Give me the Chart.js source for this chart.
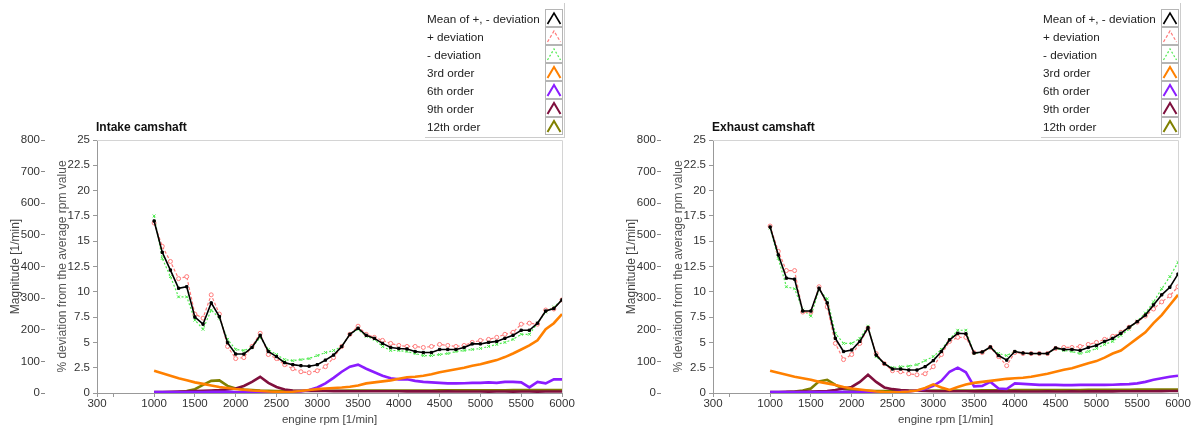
<!DOCTYPE html>
<html>
<head>
<meta charset="utf-8">
<script src="https://cdn.jsdelivr.net/npm/chart.js@4.4.1/dist/chart.umd.min.js"></script>
<style>
body { margin: 0; background: #fff; font-family: "Liberation Sans", Arial, sans-serif; }
#wrap { position: relative; width: 1193px; height: 428px; overflow: hidden; }
#wrap canvas { position: absolute; top: 0; }
.legend { position: absolute; top: 3px; width: 139px; padding: 6px 0 2px 0; border-right: 1px solid #ccc; border-bottom: 1px solid #ccc; font-size: 11.7px; color: #222; }
.legend .row { height: 18px; display: flex; align-items: center; justify-content: space-between; padding-left: 2px; }
.legend svg { margin-right: 1px; }
</style>
</head>
<body>
<div id="wrap">
  <canvas id="intake" width="596" height="428" style="left:0"></canvas>
  <canvas id="exhaust" width="597" height="428" style="left:596px"></canvas>
  <div class="legend" id="legIntake" style="left:425px"></div>
  <div class="legend" id="legExhaust" style="left:1041px"></div>
</div>
<script>
// engine speed points
const rpm = [1000, 1100, 1200, 1300, 1400, 1500, 1600, 1700, 1800, 1900,
    2000, 2100, 2200, 2300, 2400, 2500, 2600, 2700, 2800, 2900,
    3000, 3100, 3200, 3300, 3400, 3500, 3600, 3700, 3800, 3900,
    4000, 4100, 4200, 4300, 4400, 4500, 4600, 4700, 4800, 4900,
    5000, 5100, 5200, 5300, 5400, 5500, 5600, 5700, 5800, 5900, 6000];

const xTickValues = [300, 500, 1000, 1500, 2000, 2500, 3000, 3500, 4000, 4500, 5000, 5500, 6000];
const xUnlabeled = [500];
const magMax = 800, magStep = 100;
const pctMax = 25, pctStep = 2.5;

const seriesNames = ['Mean of +, - deviation', '+ deviation', '- deviation', '3rd order', '6th order', '9th order', '12th order'];

// Intake camshaft (% deviation)
const intakeMean = [17.0, 13.9, 12.15, 10.35, 10.5, 7.5, 6.8, 8.9, 7.55, 4.97,
    3.85, 3.85, 4.5, 5.7, 4.1, 3.6, 3.0, 2.8, 2.7, 2.65,
    2.8, 3.25, 3.75, 4.6, 5.8, 6.4, 5.7, 5.4, 4.9, 4.5,
    4.4, 4.35, 4.1, 4.0, 4.0, 4.3, 4.3, 4.3, 4.5, 4.85,
    4.85, 5.0, 5.1, 5.4, 5.7, 6.2, 6.2, 6.9, 8.1, 8.35, 9.2];
const intakePlus = [16.8, 14.5, 13.0, 11.3, 11.5, 7.8, 7.4, 9.7, 7.8, 4.6,
    3.4, 3.5, 4.6, 5.9, 3.8, 3.4, 2.8, 2.4, 2.1, 2.0,
    2.2, 2.6, 3.5, 4.6, 5.8, 6.6, 5.8, 5.5, 5.2, 4.9,
    4.7, 4.6, 4.6, 4.5, 4.6, 4.8, 4.7, 4.6, 4.7, 5.0,
    5.2, 5.3, 5.5, 5.8, 6.0, 6.8, 6.9, 6.8, 8.2, 8.3, 9.2];
const intakeMinus = [17.5, 13.3, 11.5, 9.5, 9.5, 7.2, 6.3, 8.2, 7.4, 5.3,
    4.3, 4.2, 4.5, 5.5, 4.3, 3.8, 3.3, 3.2, 3.3, 3.4,
    3.7, 4.0, 4.2, 4.6, 5.8, 6.3, 5.6, 5.3, 4.6, 4.2,
    4.2, 4.1, 3.9, 3.7, 3.7, 3.8, 3.9, 4.1, 4.2, 4.3,
    4.4, 4.6, 4.8, 5.0, 5.3, 5.8, 5.8, 6.9, 8.0, 8.5, 9.2];
const intakeO3 = [2.2, 1.95, 1.7, 1.45, 1.25, 1.05, 0.9, 0.75, 0.6, 0.5,
    0.4, 0.32, 0.25, 0.2, 0.15, 0.12, 0.1, 0.13, 0.2, 0.3,
    0.38, 0.45, 0.5, 0.55, 0.62, 0.75, 0.95, 1.05, 1.15, 1.25,
    1.4, 1.55, 1.6, 1.7, 1.85, 2.05, 2.2, 2.35, 2.5, 2.7,
    2.85, 3.05, 3.25, 3.55, 3.9, 4.3, 4.7, 5.2, 6.3, 6.9, 7.8];
const intakeO6 = [0.1, 0.1, 0.1, 0.1, 0.1, 0.1, 0.1, 0.12, 0.12, 0.12,
    0.1, 0.08, 0.06, 0.05, 0.05, 0.05, 0.06, 0.1, 0.15, 0.3,
    0.55, 0.95, 1.5, 2.1, 2.6, 2.8, 2.4, 2.05, 1.7, 1.45,
    1.35, 1.35, 1.2, 1.1, 1.05, 1.0, 0.95, 0.95, 0.97, 1.0,
    1.0, 1.05, 1.0, 1.1, 1.1, 1.05, 0.55, 1.1, 0.95, 1.35, 1.35];
const intakeO9 = [0.1, 0.1, 0.12, 0.14, 0.16, 0.2, 0.22, 0.25, 0.28, 0.35,
    0.45, 0.7, 1.1, 1.6, 1.0, 0.6, 0.35, 0.25, 0.22, 0.2,
    0.2, 0.2, 0.19, 0.2, 0.18, 0.18, 0.17, 0.18, 0.18, 0.17,
    0.17, 0.16, 0.17, 0.16, 0.16, 0.15, 0.16, 0.15, 0.15, 0.15,
    0.15, 0.14, 0.15, 0.15, 0.14, 0.15, 0.15, 0.14, 0.15, 0.15, 0.15];
const intakeO12 = [0.05, 0.06, 0.08, 0.1, 0.2, 0.37, 0.8, 1.2, 1.25, 0.7,
    0.45, 0.35, 0.3, 0.25, 0.22, 0.2, 0.2, 0.2, 0.2, 0.22,
    0.22, 0.22, 0.22, 0.22, 0.23, 0.23, 0.23, 0.24, 0.24, 0.24,
    0.25, 0.25, 0.25, 0.25, 0.25, 0.26, 0.26, 0.26, 0.26, 0.26,
    0.27, 0.27, 0.27, 0.27, 0.28, 0.28, 0.28, 0.28, 0.29, 0.3, 0.3];

// Exhaust camshaft (% deviation)
const exhaustMean = [16.4, 13.65, 11.35, 11.25, 8.1, 8.1, 10.35, 8.9, 5.4, 4.1,
    4.25, 5.1, 6.45, 3.75, 2.9, 2.37, 2.37, 2.27, 2.27, 2.6,
    3.2, 4.1, 5.25, 5.9, 5.85, 3.95, 4.05, 4.55, 3.7, 3.25,
    4.1, 3.95, 3.9, 3.9, 3.9, 4.45, 4.3, 4.3, 4.2, 4.5,
    4.7, 5.1, 5.4, 5.9, 6.5, 7.05, 7.7, 8.7, 9.7, 10.45, 11.75];
const exhaustPlus = [16.5, 14.0, 12.1, 12.1, 8.0, 8.0, 10.5, 8.5, 4.9, 3.3,
    3.8, 4.9, 6.4, 3.9, 2.9, 2.2, 2.1, 1.9, 1.8, 1.9,
    2.6, 3.8, 5.1, 5.5, 5.5, 4.0, 4.0, 4.5, 3.6, 2.7,
    4.0, 3.9, 3.9, 3.9, 3.9, 4.4, 4.5, 4.5, 4.6, 4.8,
    5.0, 5.3, 5.6, 6.0, 6.5, 7.0, 7.6, 8.3, 9.0, 9.6, 10.5];
const exhaustMinus = [16.3, 13.3, 10.5, 10.3, 8.2, 7.6, 10.2, 9.3, 5.9, 4.9,
    4.9, 5.4, 6.6, 3.6, 2.9, 2.5, 2.6, 2.65, 2.8, 3.2,
    3.6, 4.3, 5.3, 6.2, 6.2, 3.9, 4.0, 4.5, 3.9, 3.7,
    4.1, 3.9, 3.9, 3.9, 3.9, 4.4, 4.2, 4.1, 3.9, 4.1,
    4.4, 4.8, 5.1, 5.7, 6.3, 7.1, 7.9, 9.0, 10.3, 11.5, 12.9];
const exhaustO3 = [2.2, 2.0, 1.8, 1.6, 1.45, 1.3, 1.1, 0.95, 0.8, 0.6,
    0.45, 0.35, 0.25, 0.15, 0.1, 0.08, 0.1, 0.15, 0.25, 0.5,
    0.85, 0.55, 0.3, 0.6, 0.85, 1.0, 1.1, 1.2, 1.3, 1.4,
    1.45, 1.5, 1.6, 1.75, 1.9, 2.1, 2.3, 2.45, 2.7, 2.95,
    3.15, 3.5, 3.9, 4.2, 4.8, 5.4, 6.0, 6.9, 7.7, 8.7, 9.7];
const exhaustO6 = [0.1, 0.1, 0.1, 0.1, 0.1, 0.1, 0.1, 0.1, 0.1, 0.12,
    0.12, 0.1, 0.08, 0.07, 0.07, 0.08, 0.12, 0.15, 0.25, 0.4,
    0.7, 1.2, 2.1, 2.5, 2.05, 0.65, 0.7, 1.1, 0.45, 0.4,
    0.95, 0.9, 0.85, 0.8, 0.8, 0.8, 0.78, 0.78, 0.8, 0.8,
    0.8, 0.8, 0.82, 0.85, 0.88, 0.95, 1.1, 1.3, 1.45, 1.6, 1.7];
const exhaustO9 = [0.1, 0.1, 0.12, 0.13, 0.15, 0.15, 0.18, 0.2, 0.3, 0.45,
    0.6, 1.1, 1.8, 1.1, 0.55, 0.38, 0.3, 0.25, 0.22, 0.2,
    0.18, 0.18, 0.17, 0.18, 0.17, 0.16, 0.17, 0.16, 0.16, 0.15,
    0.16, 0.15, 0.15, 0.15, 0.16, 0.15, 0.15, 0.16, 0.15, 0.16,
    0.16, 0.17, 0.16, 0.17, 0.17, 0.18, 0.18, 0.18, 0.19, 0.2, 0.2];
const exhaustO12 = [0.05, 0.08, 0.1, 0.15, 0.25, 0.45, 1.15, 1.3, 0.8, 0.4,
    0.3, 0.25, 0.22, 0.2, 0.2, 0.2, 0.2, 0.22, 0.22, 0.22,
    0.23, 0.23, 0.24, 0.24, 0.25, 0.25, 0.26, 0.26, 0.27, 0.27,
    0.28, 0.28, 0.28, 0.29, 0.29, 0.3, 0.3, 0.3, 0.3, 0.31,
    0.31, 0.31, 0.32, 0.32, 0.32, 0.33, 0.33, 0.33, 0.34, 0.35, 0.35];

Chart.defaults.font.family = '"Liberation Sans", Arial, sans-serif';
Chart.defaults.font.size = 11;
Chart.defaults.color = '#333';

const styles = [
    { color: '#000000', width: 1.6, dash: [], point: 'rect', radius: 1.6, fill: '#000000' },
    { color: '#ff7a7a', width: 1.2, dash: [3, 2], point: 'circle', radius: 2, fill: '#ffffff' },
    { color: '#4eea4e', width: 1.2, dash: [2, 2], point: 'crossRot', radius: 2, fill: '#4eea4e' },
    { color: '#ff8000', width: 2.6, dash: [], point: false, radius: 0 },
    { color: '#8a1cff', width: 2.6, dash: [], point: false, radius: 0 },
    { color: '#7f0f3d', width: 2.6, dash: [], point: false, radius: 0 },
    { color: '#808000', width: 2.6, dash: [], point: false, radius: 0 }
];

// frame + title drawn over the plot
const panelFrame = {
    id: 'panelFrame',
    afterDraw(chart, args, opts) {
        const a = chart.chartArea, ctx = chart.ctx;
        ctx.save();
        ctx.strokeStyle = '#d4d4d4';
        ctx.lineWidth = 1;
        ctx.beginPath();
        ctx.moveTo(a.left, a.top + 0.5);
        ctx.lineTo(a.right + 0.5, a.top + 0.5);
        ctx.lineTo(a.right + 0.5, a.bottom);
        ctx.stroke();
        ctx.font = 'bold 12px "Liberation Sans", Arial, sans-serif';
        ctx.fillStyle = '#111';
        ctx.textBaseline = 'middle';
        ctx.fillText(opts.text, a.left - 1, a.top - 12);
        ctx.restore();
    }
};

function makeChart(id, title, series, padLeft, padRight) {
    const datasets = series.map((vals, i) => {
        const s = styles[i];
        return {
            label: seriesNames[i],
            data: rpm.map((r, k) => ({ x: r, y: vals[k] })),
            yAxisID: 'y',
            borderColor: s.color,
            borderWidth: s.width,
            borderDash: s.dash,
            pointStyle: s.point,
            pointRadius: s.radius,
            pointBorderWidth: 1,
            pointBorderColor: s.color,
            pointBackgroundColor: s.fill || s.color,
            tension: 0,
            fill: false
        };
    });
    return new Chart(document.getElementById(id), {
        type: 'line',
        data: { datasets: datasets },
        options: {
            responsive: false,
            animation: false,
            layout: { padding: { left: padLeft, right: padRight, top: 140, bottom: 0 } },
            plugins: { legend: { display: false }, tooltip: { enabled: false }, panelFrame: { text: title } },
            scales: {
                x: {
                    type: 'linear', min: 300, max: 6000,
                    afterBuildTicks: s => { s.ticks = xTickValues.map(v => ({ value: v })); },
                    afterFit: s => { s.height = 35; },
                    ticks: { padding: 0, autoSkip: false, maxRotation: 0, color: '#333', font: { size: 11.5 },
                        callback: v => xUnlabeled.includes(v) ? '' : v },
                    grid: { drawOnChartArea: false, tickLength: 4, color: '#999' },
                    border: { color: '#999' },
                    title: { display: true, text: 'engine rpm [1/min]', color: '#444', font: { size: 11.5 }, padding: { top: 1, bottom: 1 } }
                },
                y: {
                    position: 'left', weight: 0, min: 0, max: pctMax,
                    afterFit: s => { s.width = 52; },
                    ticks: { stepSize: pctStep, padding: 3, color: '#333', font: { size: 11.5 } },
                    grid: { drawOnChartArea: false, tickLength: 4, color: '#999' },
                    border: { color: '#999' },
                    title: { display: true, text: '% deviation from the average rpm value', color: '#555', font: { size: 12 }, padding: { top: 10, bottom: 0 } }
                },
                mag: {
                    position: 'left', weight: 1, min: 0, max: magMax,
                    afterFit: s => { s.width = 45; },
                    ticks: { stepSize: magStep, padding: 1, color: '#333', font: { size: 11.5 } },
                    grid: { drawOnChartArea: false, tickLength: 4, color: '#888' },
                    border: { display: false },
                    title: { display: true, text: 'Magnitude [1/min]', color: '#444', font: { size: 12 }, padding: { top: 8, bottom: 0 } }
                }
            }
        },
        plugins: [panelFrame]
    });
}

function buildLegend(chart, el) {
    chart.data.datasets.forEach(ds => {
        const row = document.createElement('div');
        row.className = 'row';
        const dash = ds.borderDash.length ? ds.borderDash.join(',') : 'none';
        const w = Math.min(ds.borderWidth, 2);
        row.innerHTML = '<span>' + ds.label + '</span>' +
            '<svg width="18" height="18"><rect x="0.5" y="0.5" width="17" height="17" fill="#fff" stroke="#b5b5b5"/>' +
            '<polyline points="2.5,15 9,4 15.5,15" fill="none" stroke="' + ds.borderColor + '" stroke-width="' + w +
            '" stroke-dasharray="' + dash + '"/></svg>';
        el.appendChild(row);
    });
}

const intakeChart = makeChart('intake', 'Intake camshaft',
    [intakeMean, intakePlus, intakeMinus, intakeO3, intakeO6, intakeO9, intakeO12], 0, 34);
const exhaustChart = makeChart('exhaust', 'Exhaust camshaft',
    [exhaustMean, exhaustPlus, exhaustMinus, exhaustO3, exhaustO6, exhaustO9, exhaustO12], 20, 15);
buildLegend(intakeChart, document.getElementById('legIntake'));
buildLegend(exhaustChart, document.getElementById('legExhaust'));
</script>
</body>
</html>
